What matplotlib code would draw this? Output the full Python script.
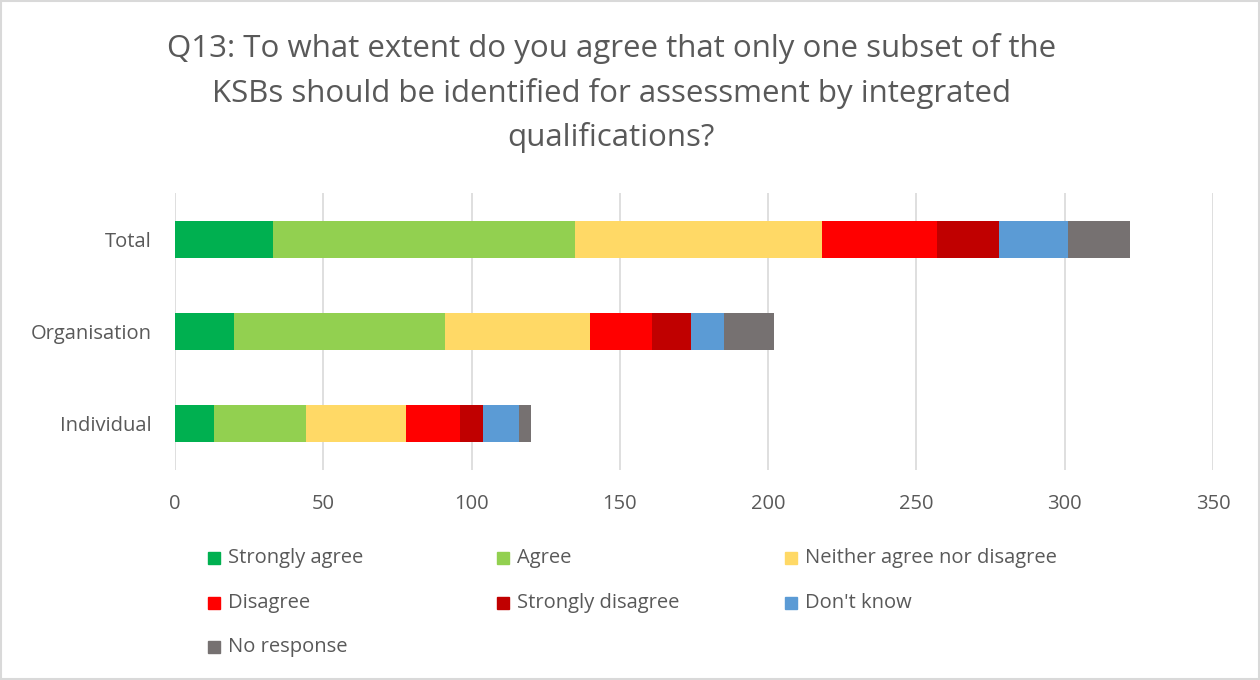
import numpy as np
import matplotlib.pyplot as plt
from matplotlib.patches import Rectangle

plt.rcParams['font.family'] = ['Open Sans', 'DejaVu Sans']

# data
groups = ['Total', 'Organisation', 'Individual']
responses = ['Strongly agree', 'Agree', 'Neither agree nor disagree',
             'Disagree', 'Strongly disagree', "Don't know", 'No response']
strongly_agree = [33, 20, 13]
agree = [102, 71, 31]
neither = [83, 49, 34]
disagree = [39, 21, 18]
strongly_disagree = [21, 13, 8]
dont_know = [23, 11, 12]
no_response = [21, 17, 4]
colours = ['#00b050', '#92d050', '#ffd966', '#ff0000', '#c00000', '#5b9bd5', '#767171']

series = [strongly_agree, agree, neither, disagree, strongly_disagree, dont_know, no_response]

fig = plt.figure(figsize=(12.6, 6.8), dpi=100)
ax = fig.add_axes([0.1389, 0.3088, 0.8238, 0.4074])

y = np.arange(len(groups))
left = np.zeros(len(groups))
for vals, col, name in zip(series, colours, responses):
    ax.barh(y, vals, left=left, height=0.4, color=col, label=name, zorder=3)
    left += np.array(vals)

ax.set_xlim(0, 350)
ax.set_ylim(-0.5, 2.5)
ax.invert_yaxis()
ax.set_yticks(y)
ax.set_yticklabels(groups)
ax.set_xticks(np.arange(0, 351, 50))
ax.grid(axis='x', color='#d9d9d9', linewidth=1.2, zorder=0)
for s in ax.spines.values():
    s.set_visible(False)
ax.tick_params(length=0, labelsize=14.5, colors='#595959')
ax.tick_params(axis='x', pad=17)
ax.tick_params(axis='y', pad=16.5)

fig.text(0.485, 0.951, 'Q13: To what extent do you agree that only one subset of the\n'
         'KSBs should be identified for assessment by integrated\nqualifications?',
         ha='center', va='top', fontsize=22.5, color='#595959', linespacing=1.55)

# legend drawn by hand in three columns
xs = [208, 497, 785]
ys = [558, 603, 647]
for i, (name, col) in enumerate(zip(responses, colours)):
    cx = xs[i % 3]
    cy = ys[i // 3]
    fig.patches.append(Rectangle((cx / 1260, 1 - (cy + 6) / 680), 12 / 1260, 12 / 680,
                                 transform=fig.transFigure, color=col))
    fig.text((cx + 20) / 1260, 1 - cy / 680, name, va='center', ha='left',
             fontsize=14.5, color='#595959')

fig.patches.append(Rectangle((0.001, 0.001), 0.998, 0.998, transform=fig.transFigure,
                             fill=False, edgecolor='#d9d9d9', linewidth=1.5))

fig.savefig('out.png', dpi=100)
